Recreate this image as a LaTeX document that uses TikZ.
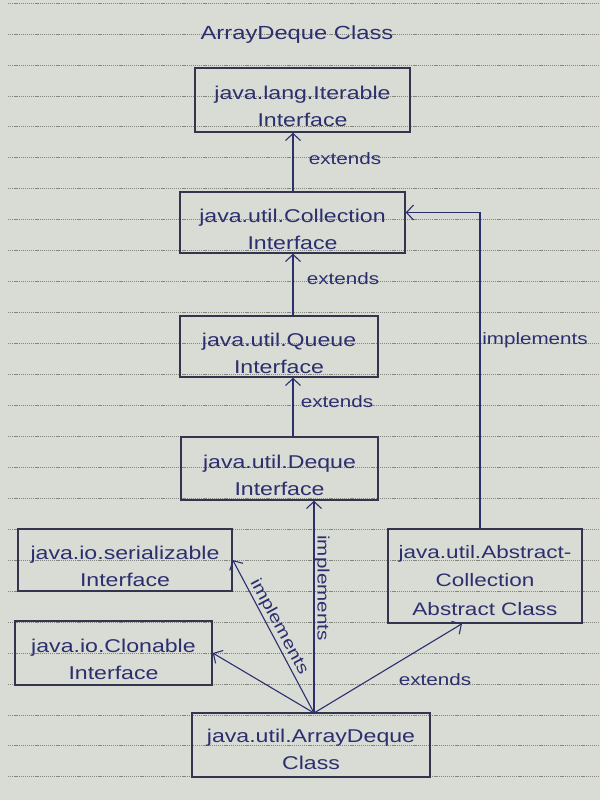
\documentclass[tikz,border=0pt]{standalone}
\usepackage{fontspec}
\setmainfont[FakeStretch=1.25]{Liberation Sans}
\usetikzlibrary{arrows.meta,calc}
\definecolor{paper}{HTML}{D9DBD5}
\definecolor{ink}{HTML}{2C2F6E}
\definecolor{boxink}{HTML}{33354F}
\definecolor{rulec}{HTML}{85877F}
\newcommand\boxstrut{\rule{0pt}{27pt}}
\begin{document}
\begin{tikzpicture}[x=1pt,y=-1pt,
  box/.style={draw=boxink, line width=1.5pt, align=center, text=ink,
    font=\fontsize{18.5}{27}\selectfont, inner sep=0pt, anchor=center},
  conn/.style={draw=ink, line width=1.1pt,
    -{Straight Barb[length=7pt,width=15pt,line width=1.1pt]}},
  lbl/.style={text=ink, font=\fontsize{16.5}{20}\selectfont, inner sep=0pt}]
\fill[paper] (0,0) rectangle (600,800);
\useasboundingbox (0,0) rectangle (600,800);
\foreach \k in {0,...,25}
  \draw[rulec, line width=0.7pt, dash pattern=on 1.2pt off 0.9pt]
    (8,{3+30.95*\k}) -- (600,{3+30.95*\k});

\node[lbl, font=\fontsize{19}{22}\selectfont] (title) at (297,35) {ArrayDeque Class};

\node[box, minimum width=215pt, minimum height=64pt] (b1) at (302.5,100) {\boxstrut java.lang.Iterable\\Interface};
\node[box, minimum width=225pt, minimum height=61pt] (b2) at (292.5,222.5) {\boxstrut java.util.Collection\\Interface};
\node[box, minimum width=198pt, minimum height=61pt] (b3) at (279,346.5) {\boxstrut java.util.Queue\\Interface};
\node[box, minimum width=197pt, minimum height=63pt] (b4) at (279.5,468.5) {\boxstrut java.util.Deque\\Interface};
\node[box, minimum width=214pt, minimum height=62pt] (b5) at (125,560) {\boxstrut java.io.serializable\\Interface};
\node[box, minimum width=197pt, minimum height=64pt] (b6) at (113.5,653) {\boxstrut java.io.Clonable\\Interface};
\node[box, minimum width=194pt, minimum height=94pt, font=\fontsize{18}{28.5}\selectfont] (b7) at (485,576) {\rule{0pt}{22pt}java.util.Abstract-\\Collection\\Abstract Class};
\node[box, minimum width=238pt, minimum height=64pt] (b8) at (311,745) {\rule{0pt}{22pt}java.util.ArrayDeque\\Class};

\coordinate (vx) at (293,0);
\coordinate (dx) at (314,0);
\coordinate (apex) at (314,713);

\draw[conn] (b2.north -| vx) -- (b1.south -| vx);
\draw[conn] (b3.north -| vx) -- (b2.south -| vx);
\draw[conn] (b4.north -| vx) -- (b3.south -| vx);
\node[lbl] (e1) at (345,159) {extends};
\node[lbl] (e2) at (343,279) {extends};
\node[lbl] (e3) at (337,402) {extends};

\draw[conn] (apex) -- (b4.south -| dx);
\node[lbl, rotate=-90] (i1) at (322,588) {implements};
\draw[conn] (apex) -- (b5.east);
\node[lbl, rotate=-61.6] (i2) at (279,627) {implements};
\draw[conn] (apex) -- (b6.east);
\draw[conn] (apex) -- ($(b7.south)+(-23,0)$);
\node[lbl] (e4) at (435,680) {extends};

\draw[conn] (b7.north -| 480,0) |- ($(b2.east)+(0,-10)$);
\node[lbl] (i3) at (535,340) {implements};
\end{tikzpicture}
\end{document}
